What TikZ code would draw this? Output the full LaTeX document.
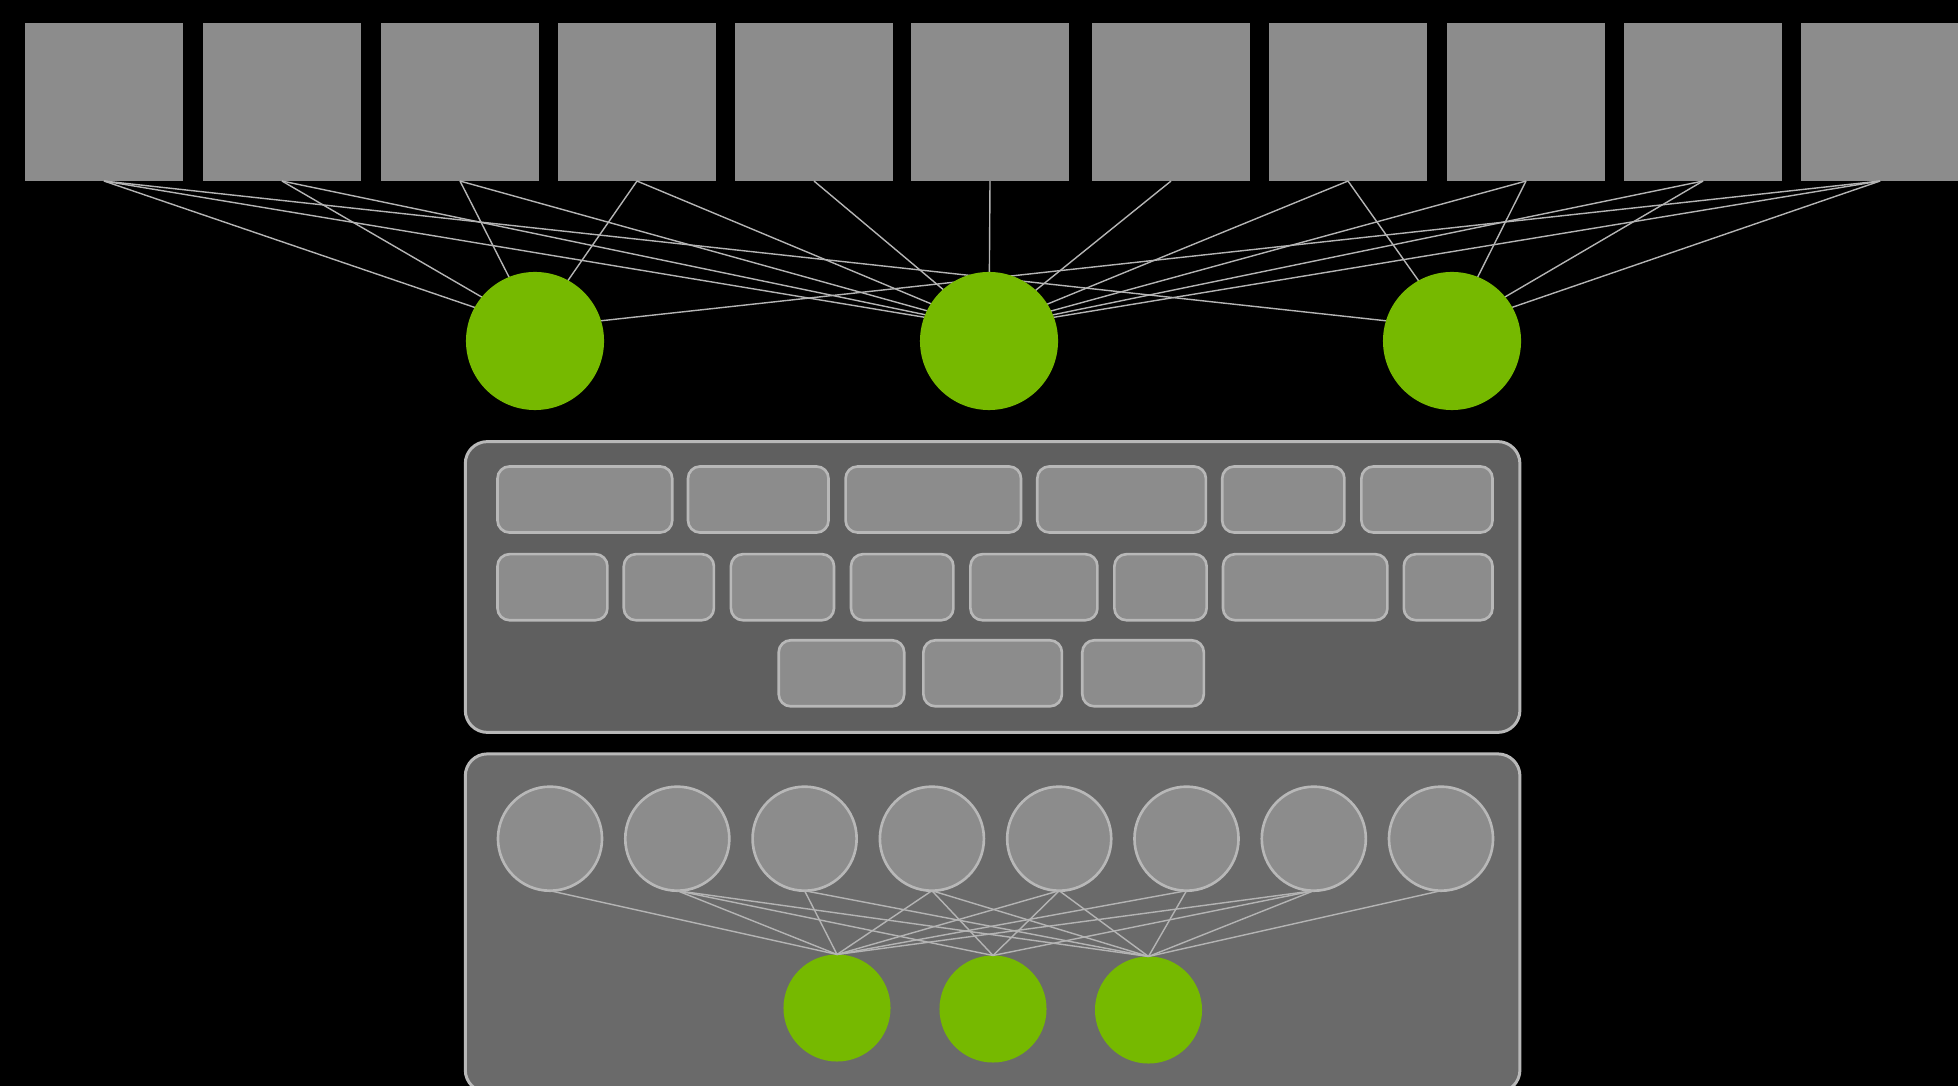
\documentclass[tikz,border=0pt]{standalone}
\definecolor{boxgray}{HTML}{8C8C8C}
\definecolor{nvgreen}{HTML}{76B900}
\definecolor{wire}{HTML}{B4B4B4}
\definecolor{edgegray}{HTML}{B8B8B8}
\definecolor{panelA}{HTML}{5F5F5F}
\definecolor{panelB}{HTML}{6A6A6A}
\begin{document}
\begin{tikzpicture}[x=0.01cm,y=-0.01cm,
  tokenbox/.style={rectangle, fill=boxgray, draw=none, minimum width=1.57cm, minimum height=1.58cm, inner sep=0pt, outer sep=0pt},
  greennode/.style={circle, fill=nvgreen, draw=none, minimum size=1.38cm, inner sep=0pt, outer sep=0pt},
  smallgreen/.style={circle, fill=nvgreen, draw=none, minimum size=1.07cm, inner sep=0pt, outer sep=0pt},
  unitnode/.style={circle, fill=boxgray, draw=edgegray, line width=0.75pt, minimum size=1.04cm, inner sep=0pt, outer sep=0pt},
  keybox/.style={rectangle, rounded corners=0.12cm, fill=boxgray, draw=edgegray, line width=0.75pt, minimum height=0.66cm, inner sep=0pt, outer sep=0pt},
  panelbox/.style={rectangle, rounded corners=0.22cm, draw=edgegray, line width=0.85pt, inner sep=0pt, outer sep=0pt},
  wireline/.style={draw=wire, line width=0.4pt}]

\clip (0,0) rectangle (1958,1086);
\fill[black] (0,0) rectangle (1958,1086);

% token boxes
\foreach \x [count=\i] in {104,282,460,637,814,990,1171,1348,1526,1703,1880}
  \node[tokenbox] (r\i) at (\x,102) {};

% aim points inside the green nodes
\coordinate (a1) at (535,328);
\coordinate (a2) at (989,328);
\coordinate (a3) at (1452,328);

\foreach \s/\t in {1/1,1/2,1/3,2/1,2/2,3/1,3/2,4/1,4/2,5/2,6/2,7/2,8/2,8/3,9/2,9/3,10/2,10/3,11/1,11/2,11/3}
  \draw[wireline] (r\s.south) -- (a\t);

\node[greennode] (c1) at (535,341) {};
\node[greennode] (c2) at (989,341) {};
\node[greennode] (c3) at (1452,341) {};

% middle panel with keys
\node[panelbox, fill=panelA, minimum width=10.54cm, minimum height=2.906cm] (mid) at (992.6,587) {};
\foreach \a/\b [count=\i] in {497.5/672.2,688/828.5,845.6/1021,1037.3/1205.9,1222.2/1344.4,1361.4/1492.5}
  \node[keybox, minimum width={(\b-\a)*0.01cm}] (ka\i) at ({(\a+\b)/2},499.5) {};
\foreach \a/\b [count=\i] in {497.5/607.4,623.8/713.9,730.9/834,851/953.4,970.4/1097.4,1114.4/1206.6,1223/1387.4,1403.8/1492.5}
  \node[keybox, minimum width={(\b-\a)*0.01cm}] (kb\i) at ({(\a+\b)/2},587.2) {};
\foreach \a/\b [count=\i] in {778.7/904.2,923.4/1061.9,1082.3/1203.8}
  \node[keybox, minimum width={(\b-\a)*0.01cm}] (kc\i) at ({(\a+\b)/2},673.3) {};

% bottom panel
\node[panelbox, fill=panelB, minimum width=10.54cm, minimum height=3.38cm] (low) at (992.6,923) {};
\foreach \x [count=\i] in {550,677.3,804.6,931.9,1059.2,1186.5,1313.8,1441}
  \node[unitnode] (p\i) at (\x,838.7) {};

\node[smallgreen] (g1) at (837,1008) {};
\node[smallgreen] (g2) at (993,1009) {};
\node[smallgreen] (g3) at (1148.5,1010) {};

\foreach \s/\t in {1/1,2/1,2/2,2/3,3/1,3/3,4/1,4/2,4/3,5/1,5/2,5/3,6/1,6/3,7/1,7/2,7/3,8/3}
  \draw[wireline] (p\s.south) -- (g\t.north);

\end{tikzpicture}
\end{document}
